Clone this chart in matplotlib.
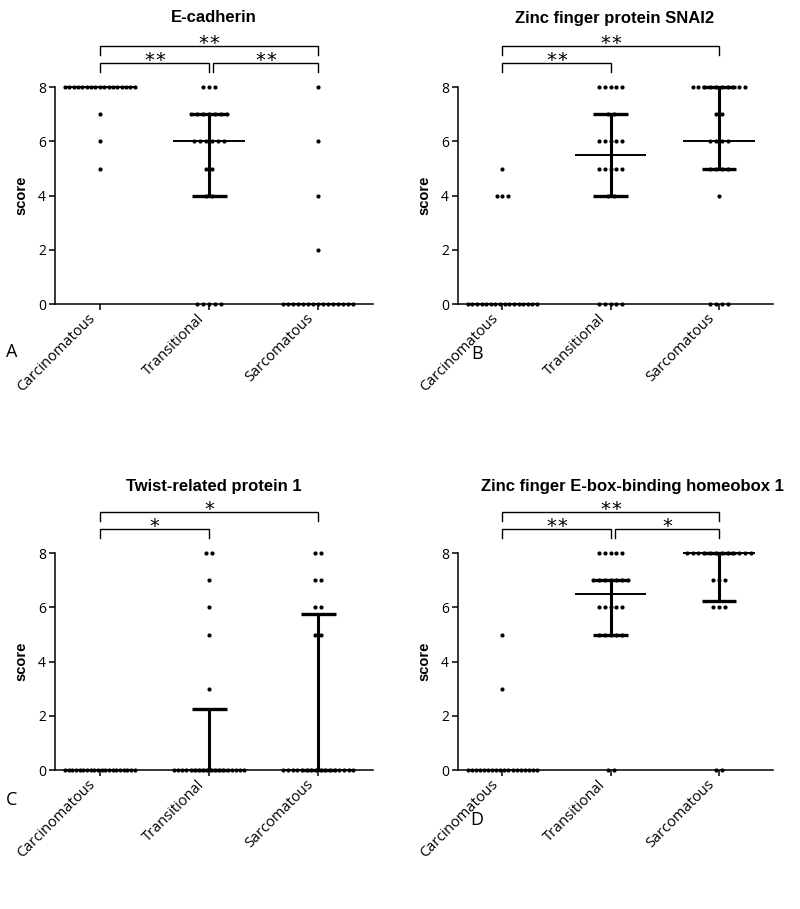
import numpy as np
import matplotlib
matplotlib.use('Agg')
import matplotlib.pyplot as plt

# groups on the x axis
groups = ['Carcinomatous', 'Transitional', 'Sarcomatous']
scores = np.arange(9)   # possible score values 0..8

# number of cases at each score 0..8, per group
ecad_carc = [0, 0, 0, 0, 0, 1, 1, 1, 17]
ecad_trans = [5, 0, 0, 0, 2, 2, 6, 7, 3]
ecad_sarc = [15, 0, 1, 0, 1, 0, 1, 0, 1]

snai2_carc = [16, 0, 0, 0, 3, 1, 0, 0, 0]
snai2_trans = [5, 0, 0, 0, 2, 5, 5, 2, 5]
snai2_sarc = [4, 0, 0, 0, 1, 4, 4, 2, 10]

twist_carc = [20, 0, 0, 0, 0, 0, 0, 0, 0]
twist_trans = [18, 0, 0, 1, 0, 1, 1, 1, 2]
twist_sarc = [16, 0, 0, 0, 0, 2, 2, 2, 2]

zeb1_carc = [18, 0, 0, 1, 0, 1, 0, 0, 0]
zeb1_trans = [2, 0, 0, 0, 0, 5, 5, 7, 5]
zeb1_sarc = [2, 0, 0, 0, 0, 0, 3, 3, 12]

# significance brackets: (group i, group j, number of stars, level)
ecad_sig = [(0, 1, 2, 0), (1, 2, 2, 0), (0, 2, 2, 1)]
snai2_sig = [(0, 1, 2, 0), (0, 2, 2, 1)]
twist_sig = [(0, 1, 1, 0), (0, 2, 1, 1)]
zeb1_sig = [(0, 1, 2, 0), (1, 2, 1, 0), (0, 2, 2, 1)]

TITLE_FONT = 'Liberation Sans'
TICK_FONT = 'Open Sans'


def draw_panel(ax, counts_list, sig):
    for gi, counts in enumerate(counts_list):
        # dots, spread sideways per score row
        xs, ys = [], []
        for s, c in zip(scores, counts):
            if c == 0:
                continue
            dx = 0.054 if c < 2 else min(0.054, 0.64 / (c - 1))
            offs = (np.arange(c) - (c - 1) / 2) * dx
            xs.extend(gi + offs)
            ys.extend([s] * c)
        ax.scatter(xs, ys, s=9, color='black', zorder=4, clip_on=False, linewidths=0)

        # median with interquartile range (GraphPad style quartiles)
        vals = np.repeat(scores, counts)
        q1, med, q3 = np.percentile(vals, [25, 50, 75], method='weibull')
        ax.hlines(med, gi - 0.33, gi + 0.33, color='black', lw=1.4, zorder=3, clip_on=False)
        if q3 > q1:
            ax.vlines(gi, q1, q3, color='black', lw=2.2, zorder=3)
            ax.hlines([q1, q3], gi - 0.16, gi + 0.16, color='black', lw=2.4, zorder=3, clip_on=False)

    # brackets with stars
    for i, j, nstar, level in sig:
        y_top = 8.89 if level == 0 else 9.52
        y_bot = y_top - 0.32
        x0 = i + (0.04 if i == 1 else 0)
        x1 = j
        ax.plot([x0, x0, x1, x1], [y_bot, y_top, y_top, y_bot], color='black', lw=1.0,
                clip_on=False, solid_joinstyle='miter')
        mid = (x0 + x1) / 2
        star_x = [mid] if nstar == 1 else [mid - 0.05, mid + 0.05]
        for sx in star_x:
            ax.text(sx, y_top + 0.1, '*', ha='center', va='center',
                    fontsize=14, family='DejaVu Sans')

    ax.set_xlim(-0.41, 2.5)
    ax.set_ylim(0, 10)
    ax.spines['top'].set_visible(False)
    ax.spines['right'].set_visible(False)
    ax.spines['left'].set_bounds(0, 8)
    ax.spines['left'].set_linewidth(1.1)
    ax.spines['bottom'].set_linewidth(1.1)
    ax.set_yticks([0, 2, 4, 6, 8])
    ax.set_xticks(range(3))
    ax.set_xticklabels([])
    # slanted group names, anchored a little left of each tick
    for gi, name in enumerate(groups):
        ax.annotate(name, xy=(gi, 0), xycoords=('data', 'axes fraction'),
                    xytext=(-5, -9), textcoords='offset points', rotation=45,
                    ha='right', va='center', rotation_mode='anchor',
                    family=TICK_FONT, fontsize=10.5, annotation_clip=False)
    for lab in ax.get_yticklabels():
        lab.set_family(TICK_FONT)
        lab.set_fontsize(10)
    ax.tick_params(axis='both', direction='out', length=4, width=1.1, pad=2.5)
    ax.set_ylabel('score', family=TITLE_FONT, fontweight='bold', fontsize=10.5)
    ax.yaxis.set_label_coords(-0.085, 0.4)


fig = plt.figure(figsize=(8, 9.09), dpi=100)

W, H = 800, 909
def px_axes(left, bottom_px, right):
    return fig.add_axes([left / W, (H - bottom_px) / H, (right - left) / W, 271 / H])

axA = px_axes(55, 304, 373)
axB = px_axes(458, 304, 773)
axC = px_axes(55, 770, 373)
axD = px_axes(458, 770, 773)

draw_panel(axA, [ecad_carc, ecad_trans, ecad_sarc], ecad_sig)
draw_panel(axB, [snai2_carc, snai2_trans, snai2_sarc], snai2_sig)
draw_panel(axC, [twist_carc, twist_trans, twist_sarc], twist_sig)
draw_panel(axD, [zeb1_carc, zeb1_trans, zeb1_sarc], zeb1_sig)

titles = [('E-cadherin', 214, 18), ('Zinc finger protein SNAI2', 615, 18),
          ('Twist-related protein 1', 214, 486), ('Zinc finger E-box-binding homeobox 1', 632, 486)]
for t, x, y in titles:
    fig.text(x / W, 1 - y / H, t, ha='center', va='center', family=TITLE_FONT,
             fontweight='bold', fontsize=12)

letters = [('A', 12, 352), ('B', 477, 354), ('C', 12, 800), ('D', 477, 820)]
for t, x, y in letters:
    fig.text(x / W, 1 - y / H, t, ha='center', va='center', family=TICK_FONT, fontsize=13)

fig.savefig('out.png', dpi=100)
